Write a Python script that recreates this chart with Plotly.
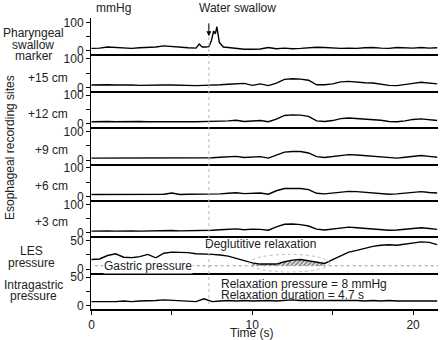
import plotly.graph_objects as go
from plotly.subplots import make_subplots

# ---------------- data ----------------
t_grid = [0, 0.5, 1, 1.5, 2, 2.5, 3, 3.5, 4, 4.5, 5, 5.5, 6, 6.5, 7, 7.5, 8, 8.5, 9, 9.5,
          10, 10.5, 11, 11.5, 12, 12.5, 13, 13.5, 14, 14.5, 15, 15.5, 16, 16.5, 17, 17.5,
          18, 18.5, 19, 19.5, 20, 20.5, 21, 21.5]

t_phar = [0, 0.5, 1, 1.5, 2, 2.5, 3, 3.5, 4, 4.5, 5, 5.5, 6, 6.5, 6.7, 6.8, 6.9, 7.1, 7.3,
          7.45, 7.6, 7.7, 7.8, 7.95, 8.2, 8.5, 9, 9.5, 10, 10.5, 11, 11.5, 12, 12.5, 13,
          13.5, 14, 14.5, 15, 15.5, 16, 16.5, 17, 17.5, 18, 18.5, 19, 19.5, 20, 20.5, 21, 21.5]
pharyngeal = [9, 10, 14, 13, 10, 9, 11, 12, 14, 18, 15, 12, 11, 10, 24, 18, 14, 14, 15,
              35, 70, 60, 85, 30, 14, 12, 9, 6, 6, 7, 12, 8, 10, 8, 9,
              11, 13, 12, 10, 9, 10, 9, 11, 12, 10, 9, 12, 11, 10, 12, 10, 11]

eso_15 = [8, 9, 9, 8, 9, 8, 7, 8, 9, 8, 8, 7, 6, 6, 7, 7, 9, 11, 12, 14,
          7, 12, 6, 15, 28, 30, 29, 25, 9, 9, 12, 19, 21, 18, 16, 15, 11, 7, 6, 9,
          14, 18, 15, 12]
eso_12 = [7, 8, 8, 7, 8, 9, 8, 7, 6, 7, 7, 6, 7, 7, 7, 8, 9, 10, 12, 8,
          9, 11, 7, 16, 29, 31, 30, 26, 10, 8, 11, 18, 20, 18, 17, 15, 12, 8, 7, 10,
          15, 17, 14, 11]
eso_9 = [7, 7, 8, 8, 7, 8, 8, 7, 6, 6, 7, 7, 6, 7, 8, 8, 10, 11, 13, 9,
         11, 12, 7, 17, 28, 30, 30, 25, 12, 9, 12, 17, 19, 18, 16, 14, 11, 8, 7, 10,
         14, 16, 13, 10]
eso_6 = [7, 7, 8, 8, 7, 8, 8, 7, 7, 8, 12, 7, 8, 8, 9, 8, 9, 11, 13, 10,
         12, 12, 8, 20, 28, 29, 28, 24, 11, 9, 12, 17, 18, 17, 15, 14, 10, 8, 9, 12,
         16, 17, 14, 12]
eso_3 = [6, 7, 7, 6, 7, 7, 6, 7, 7, 7, 8, 7, 7, 8, 8, 9, 11, 13, 14, 11,
         13, 12, 9, 21, 30, 31, 29, 24, 13, 10, 13, 18, 20, 18, 16, 14, 11, 9, 10, 13,
         17, 18, 15, 12]

les = [17, 18, 24, 27, 21, 20, 22, 26, 20, 28, 30, 30, 29, 27, 27, 26, 25, 23, 19, 15,
       11, 9, 9, 9, 13, 16, 17, 15, 12, 10, 17, 24, 30, 33, 37, 40, 42, 43, 42, 44,
       45, 48, 47, 43]
intragastric = [7, 7, 6, 7, 8, 7, 8, 8, 9, 10, 9, 8, 8, 7, 12, 7, 8, 9, 8, 9,
                8, 9, 9, 8, 9, 10, 9, 9, 10, 9, 9, 10, 9, 9, 8, 9, 8, 9, 8, 8,
                9, 8, 9, 8]

gastric_pressure = 6
swallow_time = 7.3
relax_start, relax_end = 10, 14.5

# left-hand row labels: (text lines, x px, y px of each line, anchor)
row_labels = [
    (["Pharyngeal", "swallow", "marker"], 33, [33, 45, 56], "center"),
    (["+15 cm"], 70, [78], "right"),
    (["+12 cm"], 70, [114], "right"),
    (["+9 cm"], 70, [150], "right"),
    (["+6 cm"], 70, [186], "right"),
    (["+3 cm"], 70, [222], "right"),
    (["LES", "pressure"], 32, [251, 263], "center"),
    (["Intragastric", "pressure"], 33, [285, 296], "center"),
]
x_ticks = [0, 5, 10, 15, 20]
x_ticktext = ["0", "", "10", "", "20"]

# ---------------- figure ----------------
FONT = "Liberation Sans, Arial, sans-serif"
TXT = "#222222"
L, R, T, B, W, H = 91, 2, 18, 31, 440, 340
PW, PH = W - L - R, H - T - B


def px_x(px):
    return (px - L) / PW


def px_y(py):
    return (H - B - py) / PH


fig = make_subplots(rows=8, cols=1, shared_xaxes=True, vertical_spacing=0)

series = [(t_phar, pharyngeal), (t_grid, eso_15), (t_grid, eso_12), (t_grid, eso_9),
          (t_grid, eso_6), (t_grid, eso_3), (t_grid, les), (t_grid, intragastric)]

# hatched relaxation area (between gastric line and LES trace)
idx = [i for i, t in enumerate(t_grid) if relax_start <= t <= relax_end]
seg_t = [t_grid[i] for i in idx]
seg_les = [les[i] for i in idx]
fig.add_trace(go.Scatter(x=seg_t, y=[gastric_pressure] * len(seg_t), mode="lines",
                         line=dict(width=0), showlegend=False, hoverinfo="skip"), row=7, col=1)
fig.add_trace(go.Scatter(x=seg_t, y=seg_les, mode="lines", line=dict(width=0),
                         fill="tonexty", fillcolor="white",
                         fillpattern=dict(shape="/", fgcolor="black", bgcolor="white",
                                          size=3, solidity=0.6),
                         showlegend=False, hoverinfo="skip"), row=7, col=1)

for r, (xs, ys) in enumerate(series, start=1):
    fig.add_trace(go.Scatter(x=xs, y=ys, mode="lines", line=dict(color="black", width=1.4),
                             showlegend=False, hoverinfo="skip"), row=r, col=1)

for r in range(1, 9):
    big = r <= 6
    fig.update_yaxes(row=r, col=1,
                     range=[-12, 115.7] if big else [-6, 57.8],
                     tickvals=[0, 50, 100] if big else [0, 25, 50],
                     ticktext=["0", "", "100"] if big else ["0", "", "50"],
                     ticks="outside", ticklen=4, tickwidth=1, tickcolor="black",
                     showline=True, linecolor="black", linewidth=1,
                     showgrid=False, zeroline=False,
                     tickfont=dict(size=12, color=TXT, family=FONT))
    fig.update_xaxes(row=r, col=1, range=[-0.03, 21.55],
                     showline=True, linecolor="black", linewidth=2,
                     showgrid=False, zeroline=False,
                     ticks="outside" if r == 8 else "", ticklen=4, tickwidth=1,
                     tickcolor="black", tickvals=x_ticks, ticktext=x_ticktext,
                     showticklabels=(r == 8),
                     tickfont=dict(size=12, color=TXT, family=FONT))

# vertical dotted swallow line
fig.add_shape(type="line", xref="x", yref="paper", x0=swallow_time, x1=swallow_time,
              y0=px_y(304), y1=px_y(22), line=dict(color="#bbbbbb", width=1, dash="dot"))
# gastric pressure dotted line
fig.add_shape(type="line", xref="x7", yref="y7", x0=0.2, x1=21.55,
              y0=gastric_pressure, y1=gastric_pressure,
              line=dict(color="#999999", width=1, dash="dot"))
# relaxation ellipse
fig.add_shape(type="circle", xref="x7", yref="y7", x0=9.8, x1=14.8, y0=-5, y1=26,
              line=dict(color="#bbbbbb", width=1, dash="dot"))

f12 = dict(size=12, color=TXT, family=FONT)
ann = []
ann.append(dict(text="Water swallow", x=9.1, y=px_y(8), xref="x", yref="paper",
                yanchor="middle", showarrow=False, font=f12))
ann.append(dict(text="", x=swallow_time, y=52, ax=swallow_time, ay=102, xref="x", yref="y",
                axref="x", ayref="y", showarrow=True, arrowhead=2, arrowsize=1,
                arrowwidth=1, arrowcolor="black"))
ann.append(dict(text="mmHg", x=px_x(94), y=px_y(8), xref="paper", yref="paper",
                yanchor="middle", showarrow=False, font=f12))

for lines, px, pys, al in row_labels:
    for txt, py in zip(lines, pys):
        ann.append(dict(text=txt, x=px_x(px), y=px_y(py), xref="paper", yref="paper",
                        xanchor=al, yanchor="middle", showarrow=False, font=f12))
ann.append(dict(text="Esophageal recording sites", x=px_x(10), y=px_y(148),
                xref="paper", yref="paper", xanchor="center", yanchor="middle",
                textangle=-90, showarrow=False, font=f12))

ann.append(dict(text="Deglutitive relaxation", x=10.5, y=45, xref="x7", yref="y7",
                yanchor="middle", showarrow=False, font=f12))
ann.append(dict(text="Gastric pressure", x=3.5, y=gastric_pressure, xref="x7", yref="y7",
                yanchor="middle", showarrow=False, bgcolor="white", borderpad=0, font=f12))
ann.append(dict(text="Relaxation pressure = 8 mmHg", x=7.9, y=37, xref="x8", yref="y8",
                xanchor="left", yanchor="middle", showarrow=False, font=f12))
ann.append(dict(text="Relaxation duration = 4.7 s", x=7.9, y=18.5, xref="x8", yref="y8",
                xanchor="left", yanchor="middle", showarrow=False, font=f12))
ann.append(dict(text="Time (s)", x=10, y=px_y(333), xref="x", yref="paper",
                yanchor="middle", showarrow=False, font=f12))

fig.update_layout(width=W, height=H, margin=dict(l=L, r=R, t=T, b=B),
                  paper_bgcolor="white", plot_bgcolor="white", annotations=ann,
                  font=dict(family=FONT, size=12, color=TXT))
fig.write_html("out.html")
